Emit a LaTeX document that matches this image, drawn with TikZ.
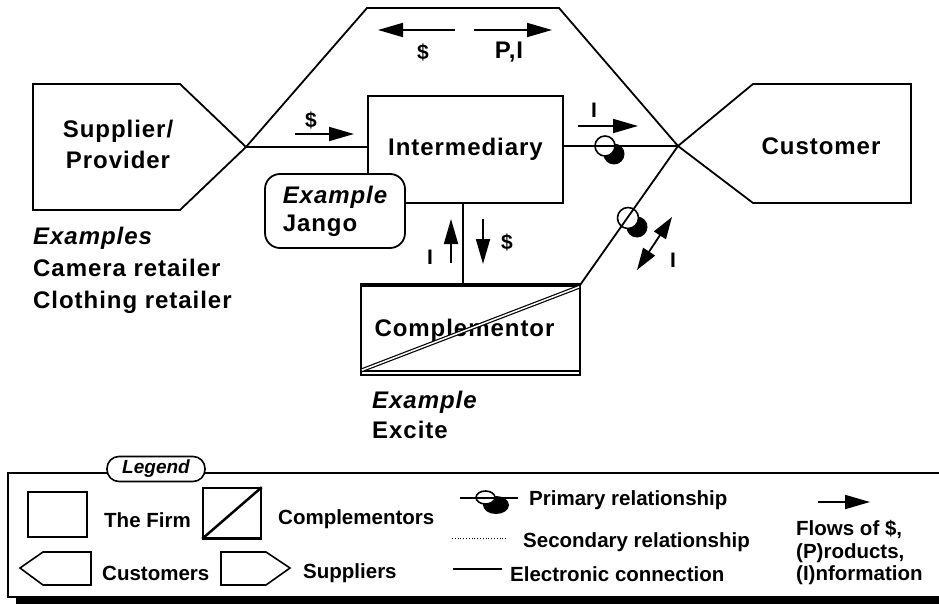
\documentclass[tikz,border=0pt]{standalone}
\usepackage{fontspec}
\setmainfont{Liberation Sans}
\newfontfamily\trackfont{Liberation Sans}[LetterSpace=4]
\usetikzlibrary{arrows.meta}

% font shortcuts
\newcommand\lblfont{\trackfont\bfseries\fontsize{24}{30}\selectfont}
\newcommand\smallfont{\trackfont\bfseries\fontsize{21}{25}\selectfont}
\newcommand\legfont{\bfseries\fontsize{20.5}{24}\selectfont}

\tikzset{
  wire/.style={line width=1.8pt},
  firm/.style={draw, line width=1.8pt, fill=white, inner sep=0pt},
  lbl/.style={inner sep=0pt, font=\lblfont},
  flowlbl/.style={inner sep=0pt, font=\smallfont},
  legtext/.style={inner sep=0pt, anchor=west, font=\legfont},
  flow/.style={line width=1.8pt, -{Triangle[length=25pt,width=14pt]}},
  primw/.style={draw, line width=1.6pt, fill=white},
}

\begin{document}
\begin{tikzpicture}[x=1pt,y=-1pt,line join=miter]
\useasboundingbox (0,0) rectangle (939,604);
\clip (0,0) rectangle (939,604);

% ---------- junction points ----------
\coordinate (sp) at (246,147);
\coordinate (cp) at (678,146);
\coordinate (vl) at (463,0);

% ---------- boxes ----------
\node[firm, minimum width=195pt, minimum height=107pt, font=\lblfont] (interm) at (465.5,149.5) {Intermediary};
\node[minimum width=219pt, minimum height=90pt, inner sep=0pt] (comp) at (470.5,330) {};

% ---------- primary relationship marks (under the wires) ----------
\fill (614,154) circle (10.5pt);
\draw[primw] (605,146) circle (10pt);
\fill (637,227) circle (10.5pt);
\draw[primw] (628,218) circle (10.5pt);

% ---------- supplier shape ----------
\draw[wire] (33,84) -- (180,84) -- (sp) -- (180,210) -- (33,210) -- cycle;
\node[lbl, align=center, font=\trackfont\bfseries\fontsize{24}{31}\selectfont] (suptext) at (118,144) {Supplier/\\Provider};

% ---------- customer shape ----------
\draw[wire] (cp) -- (753,203) -- (911,203) -- (911,84) -- (753,84) -- cycle;
\node[lbl] (custtext) at (821,146) {Customer};

% ---------- wires ----------
\draw[wire] (sp) -- (367,8) -- (559,8) -- (cp);
\draw[wire] (sp) -- (sp -| interm.west);
\draw[wire] (interm.east |- cp) -- (cp);
\draw[wire] (cp) -- (comp.north east);
\draw[wire] (vl |- interm.south) -- (vl |- comp.north);

% ---------- complementor ----------
\draw[line width=1.8pt] (comp.south west) rectangle (comp.north east);
\draw[line width=4pt] ([xshift=-1pt]comp.north west) -- ([xshift=1pt]comp.north east);
\draw[line width=1.5pt] ([yshift=4pt]comp.south west) -- ([yshift=4pt]comp.south east);
\node[lbl] (comptext) at (464.5,330) {Complementor};
\draw[line width=1.2pt, double=white, double distance=1.5pt]
  ([xshift=1pt,yshift=5pt]comp.south west) -- ([xshift=-1pt,yshift=-2pt]comp.north east);

% ---------- Jango example ----------
\node[draw, line width=1.8pt, fill=white, rounded corners=15pt, minimum width=140pt,
      minimum height=74pt, inner sep=0pt, align=left,
      font=\trackfont\bfseries\fontsize{24}{28}\selectfont] (jango) at (335,211)
  {{\itshape Example}\\Jango};

% ---------- flows ----------
\draw[flow] (295,134) -- (354,134);
\node[flowlbl] (l1) at (311,120) {\$};
\draw[flow] (455,30) -- (378,30);
\node[flowlbl] (l2) at (423,52) {\$};
\draw[flow] (474,30) -- (552,30);
\node[lbl] (l3) at (509,52) {P,I};
\draw[flow] (578,126) -- (638,126);
\node[flowlbl] (l4) at (594,110) {I};
\draw[flow] (451,263) -- (451,219);
\node[flowlbl] (l5) at (430,257) {I};
\draw[flow] (483,219) -- (483,264);
\node[flowlbl] (l6) at (507,242) {\$};
\draw[line width=1.8pt, {Triangle[length=22pt,width=14pt]}-{Triangle[length=22pt,width=14pt]}]
  (637,270) -- (672,217);
\node[flowlbl] (l7) at (673,260) {I};

% ---------- examples ----------
\node[lbl, anchor=west, align=left, font=\trackfont\bfseries\fontsize{24}{32}\selectfont] (ex1) at (33,270)
  {{\itshape Examples}\\Camera retailer\\Clothing retailer};
\node[lbl, anchor=west, align=left, font=\trackfont\bfseries\fontsize{24}{30}\selectfont] (ex2) at (372,415)
  {{\itshape Example}\\Excite};

% ---------- legend ----------
\fill (16,596) rectangle (950,610);
\draw[line width=1.8pt] (950,473) -- (8,473) -- (8,597) -- (950,597);
\node[draw, line width=1.6pt, fill=white, rounded corners=12pt, minimum width=98pt,
      minimum height=25pt, inner sep=0pt, font=\bfseries\itshape\fontsize{19}{22}\selectfont]
  (legend) at (156,469) {Legend};

\node[draw, line width=1.6pt, minimum width=59pt, minimum height=45pt, inner sep=0pt] (lgfirm) at (57.5,514.5) {};
\node[legtext] (tfirm) at (104,520) {The Firm};

\node[draw, line width=1.6pt, minimum width=58pt, minimum height=50pt, inner sep=0pt] (lgcomp) at (232,513) {};
\draw[line width=3pt] (lgcomp.south west) -- (lgcomp.south east);
\draw[line width=2.5pt] (lgcomp.south west) -- (lgcomp.north east);
\node[legtext] (tcomp) at (278,519) {Complementors};

\draw[line width=1.6pt] (20,568) -- (43,552) -- (91,552) -- (91,585) -- (43,585) -- cycle;
\node[legtext] (tcust) at (102,573) {Customers};
\draw[line width=1.6pt] (221,552) -- (266,552) -- (290,568) -- (266,585) -- (221,585) -- cycle;
\node[legtext] (tsupp) at (303,573) {Suppliers};

\fill (496,505) ellipse (13pt and 9pt);
\draw[primw] (485.5,497.5) ellipse (9.5pt and 6.5pt);
\draw[line width=1.6pt] (460,498) -- (518,498);
\node[legtext] (tprim) at (529,500) {Primary relationship};

\draw[line width=0.8pt, dotted] (452,538) -- (508,538);
\node[legtext] (tsec) at (523,542) {Secondary relationship};

\draw[line width=1.6pt] (453,569) -- (502,569);
\node[legtext] (telec) at (510,574) {Electronic connection};

\draw[flow] (818,502) -- (870,502);
\node[legtext, align=left, font=\bfseries\fontsize{20.5}{22.5}\selectfont] (tflows) at (796,553)
  {Flows of \$,\\(P)roducts,\\(I)nformation};
\end{tikzpicture}
\end{document}
